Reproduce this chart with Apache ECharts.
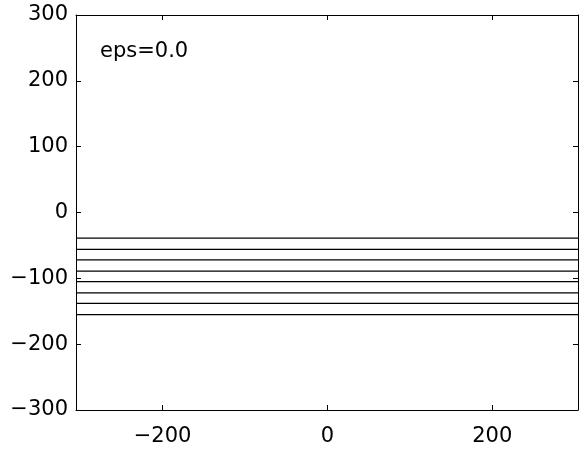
<!DOCTYPE html>
<html>
<head>
<meta charset="utf-8">
<script src="https://cdn.jsdelivr.net/npm/echarts@6/dist/echarts.min.js"></script>
<style>
  html, body { margin: 0; padding: 0; background: #fff; }
  #chart { width: 579px; height: 452px; }
</style>
</head>
<body>
<div id="chart"></div>
<script>
// horizontal levels
const levels = [-39, -56, -72, -89, -105, -122, -138, -155]
const xRange = [-305, 304]
const xTicks = [-200, 0, 200]
const yTicks = [-300, -200, -100, 0, 100, 200, 300]
const label = 'eps=0.0'

const font = 'DejaVu Sans, Liberation Sans, sans-serif'
const fmt = v => (v < 0 ? '\u2212' + Math.abs(v) : String(v))

const chart = echarts.init(document.getElementById('chart'))

const xBase = {
  type: 'value',
  min: xRange[0],
  max: xRange[1],
  axisLine: { show: true, onZero: false, lineStyle: { color: '#000', width: 1 } },
  axisTick: { show: true, inside: true, length: 5, customValues: xTicks, lineStyle: { color: '#000' } },
  splitLine: { show: false }
}
const yBase = {
  type: 'value',
  min: yTicks[0],
  max: yTicks[yTicks.length - 1],
  interval: 100,
  axisLine: { show: true, onZero: false, lineStyle: { color: '#000', width: 1 } },
  axisTick: { show: true, inside: true, length: 5, lineStyle: { color: '#000' } },
  splitLine: { show: false }
}

chart.setOption({
  animation: false,
  grid: { left: 76, right: 1, top: 15, bottom: 42, containLabel: false },
  xAxis: [
    Object.assign({}, xBase, {
      position: 'bottom',
      axisLabel: { customValues: xTicks, color: '#000', fontSize: 21, fontFamily: font, margin: 16, formatter: fmt }
    }),
    Object.assign({}, xBase, { position: 'top', axisLabel: { show: false } })
  ],
  yAxis: [
    Object.assign({}, yBase, {
      position: 'left',
      axisLabel: { color: '#000', fontSize: 21, fontFamily: font, margin: 8, formatter: fmt }
    }),
    Object.assign({}, yBase, { position: 'right', axisLabel: { show: false } })
  ],
  graphic: [{
    type: 'text',
    left: 100,
    top: 41,
    style: { text: label, fill: '#000', font: '21px ' + font }
  }],
  series: levels.map(v => ({
    type: 'line',
    data: [[xRange[0], v], [xRange[1], v]],
    symbol: 'none',
    lineStyle: { color: '#000', width: 1.2 },
    silent: true
  }))
})
</script>
</body>
</html>
